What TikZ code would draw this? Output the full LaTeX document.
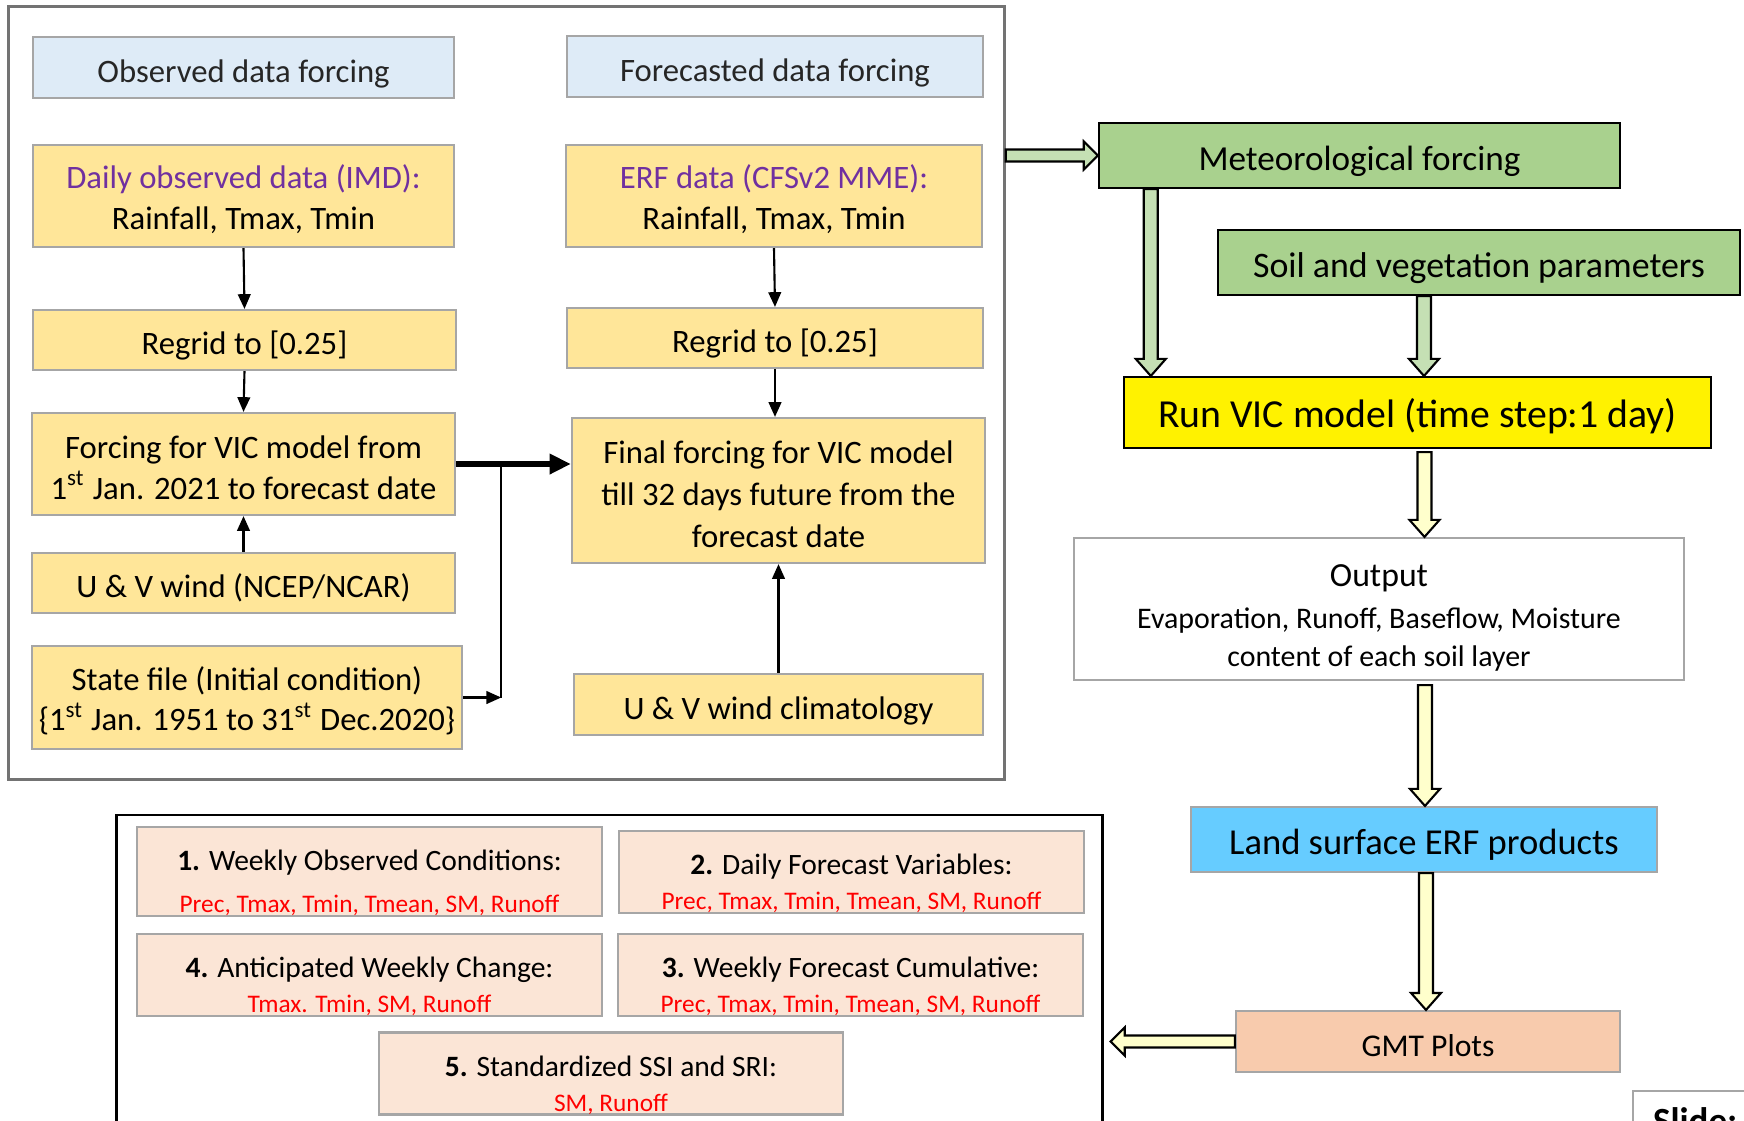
\documentclass[tikz,border=0pt]{standalone}
\usepackage{fontspec}
\setmainfont{Carlito}
\usetikzlibrary{arrows.meta,calc}

\definecolor{hdrblue}{HTML}{DEEBF7}
\definecolor{boxyellow}{HTML}{FFE699}
\definecolor{boxgray}{HTML}{A6A6A6}
\definecolor{imdpurple}{HTML}{7030A0}
\definecolor{metgreen}{HTML}{A9D18E}
\definecolor{arrgreen}{HTML}{C5E0B4}
\definecolor{arryellow}{HTML}{FFFFCC}
\definecolor{landblue}{HTML}{66CCFF}
\definecolor{gmtpeach}{HTML}{F8CBAD}
\definecolor{prodpeach}{HTML}{FBE5D6}

% strut for the first line of a stacked label
\newcommand{\topstrut}[1]{\rule{0pt}{#1}}
% hollow block arrow going down: fill, start coordinate, target node
\newcommand{\downblk}[3]{%
  \coordinate (tip) at (#2 |- #3.north);
  \draw[blk, fill=#1] ($(#2)+(-7,0)$) -- ($(tip)+(-7,-17)$) -- ($(tip)+(-15,-17)$) -- (tip)
    -- ($(tip)+(15,-17)$) -- ($(tip)+(7,-17)$) -- ($(#2)+(7,0)$) -- cycle;}
% hollow block arrow going sideways: fill, start, tip, direction (1 right, -1 left)
\newcommand{\sideblk}[4]{%
  \draw[blk, fill=#1] ($(#2)+(0,-6)$) -- ($(#3)+({-1*(#4)*14},-6)$) -- ($(#3)+({-1*(#4)*14},-14)$) -- (#3)
    -- ($(#3)+({-1*(#4)*14},14)$) -- ($(#3)+({-1*(#4)*14},6)$) -- ($(#2)+(0,6)$) -- cycle;}

\begin{document}
\begin{tikzpicture}[x=0.01cm, y=-0.01cm,
    every node/.style={font=\fontsize{9.3}{11.6}\selectfont, align=center, inner sep=0pt},
    oneline/.style={text height=1.0em, text depth=0.17em},
    panel/.style={draw=black!55, line width=0.8pt},
    hdr/.style={draw=boxgray, line width=0.6pt, fill=hdrblue, text=black!85, oneline},
    ybox/.style={draw=boxgray, line width=0.6pt, fill=boxyellow},
    gbox/.style={draw=black, line width=0.6pt, fill=metgreen, oneline},
    prod/.style={draw=boxgray, line width=0.6pt, fill=prodpeach},
    thin/.style={line width=0.6pt, -{Triangle[length=4.2pt,width=3.6pt]}},
    blk/.style={draw=black, line width=0.6pt, line join=miter}]
  \clip (0,0) rectangle (1744,1120);

  % forcing panel
  \node[panel, minimum width=9.95cm, minimum height=7.72cm] (panel) at (506.5,393) {};
  \node[hdr, minimum width=4.21cm, minimum height=0.61cm] (hdrobs) at (243.5,67.5) {Observed data forcing};
  \node[hdr, minimum width=4.16cm, minimum height=0.61cm] (hdrfc) at (775,66.5) {Forecasted data forcing};

  % observed column
  \node[ybox, minimum width=4.21cm, minimum height=1.02cm] (imd) at (243.5,196)
    {\topstrut{0.93em}{\color{imdpurple}Daily observed data (IMD):}\\Rainfall, Tmax, Tmin};
  \node[ybox, oneline, minimum width=4.23cm, minimum height=0.60cm] (regL) at (244.5,340) {Regrid to [0.25]};
  \node[ybox, minimum width=4.23cm, minimum height=1.02cm] (forcL) at (243.5,464)
    {\topstrut{0.9em}Forcing for VIC model from\\1\textsuperscript{st} Jan. 2021 to forecast date};
  \node[ybox, oneline, minimum width=4.23cm, minimum height=0.60cm] (windL) at (243.5,583) {U \& V wind (NCEP/NCAR)};
  \node[ybox, minimum width=4.30cm, minimum height=1.03cm] (state) at (247,697.5)
    {\topstrut{0.93em}State file (Initial condition)\\\{1\textsuperscript{st} Jan. 1951 to 31\textsuperscript{st} Dec.2020\}};

  % forecast column
  \node[ybox, minimum width=4.16cm, minimum height=1.02cm] (erf) at (774,196)
    {\topstrut{0.93em}{\color{imdpurple}ERF data (CFSv2 MME):}\\Rainfall, Tmax, Tmin};
  \node[ybox, oneline, minimum width=4.16cm, minimum height=0.60cm] (regR) at (775,338) {Regrid to [0.25]};
  \node[ybox, minimum width=4.13cm, minimum height=1.45cm, font=\fontsize{9.3}{12}\selectfont] (final) at (778.5,490.5)
    {\topstrut{0.93em}Final forcing for VIC model\\till 32 days future from the\\forecast date};
  \node[ybox, oneline, minimum width=4.09cm, minimum height=0.61cm] (windR) at (778.5,704.5) {U \& V wind climatology};

  \draw[thin] (imd.south) -- (regL.north);
  \draw[thin] (regL.south) -- (forcL.north);
  \draw[thin] (windL.north) -- (forcL.south);
  \draw[thin] (erf.south) -- (regR.north);
  \draw[thin] (regR.south) -- (regR.south |- final.north);
  \draw[thin] (windR.north) -- (windR.north |- final.south);

  % merge into final forcing
  \coordinate (jn) at ($(forcL.east)+(45,0)$);
  \draw[line width=1.5pt, -{Triangle[length=6pt,width=5.5pt]}] (forcL.east) -- (final.west |- forcL.east);
  \draw[line width=0.6pt] (jn) -- (state.east -| jn);
  \draw[thin] (state.east) -- (state.east -| jn);

  % VIC model chain
  \node[gbox, minimum width=5.21cm, minimum height=0.65cm, font=\fontsize{10}{12}\selectfont] (met) at (1359.5,155.5) {Meteorological forcing};
  \node[gbox, minimum width=5.22cm, minimum height=0.65cm, font=\fontsize{10.2}{12}\selectfont] (soil) at (1479,262.5) {Soil and vegetation parameters};
  \node[draw=black, line width=0.6pt, fill=yellow, oneline, minimum width=5.87cm, minimum height=0.71cm,
        font=\fontsize{11.3}{13}\selectfont] (run) at (1417.5,412.5) {Run VIC model (time step:1 day)};
  \node[draw=boxgray, line width=0.6pt, fill=white, minimum width=6.10cm, minimum height=1.42cm,
        font=\fontsize{8.5}{10.8}\selectfont] (output) at (1379,609)
    {{\fontsize{9.6}{11}\selectfont\topstrut{11.3pt}Output}\\[1pt]Evaporation, Runoff, Baseflow, Moisture\\content of each soil layer};
  \node[draw=boxgray, line width=0.6pt, fill=landblue, oneline, minimum width=4.66cm, minimum height=0.65cm,
        font=\fontsize{10.4}{12}\selectfont] (land) at (1424,839.5) {Land surface ERF products};
  \node[draw=boxgray, line width=0.6pt, fill=gmtpeach, oneline, minimum width=3.84cm, minimum height=0.61cm,
        font=\fontsize{9}{11}\selectfont] (gmt) at (1428,1041.5) {GMT Plots};

  \coordinate (p0) at (panel.east |- met.west);
  \sideblk{arrgreen}{p0}{met.west}{1}
  \coordinate (m1) at ($(met.south west)+(53,0)$);
  \downblk{arrgreen}{m1}{run}
  \coordinate (s1) at ($(soil.south)+(-55,0)$);
  \downblk{arrgreen}{s1}{soil.south |- run}
  \coordinate (r1) at ($(run.south)+(7,3)$);
  \downblk{arryellow}{r1}{output}
  \coordinate (o1) at ($(output.south)+(46,4)$);
  \downblk{arryellow}{o1}{land}
  \coordinate (l1) at ($(land.south)+(2,0)$);
  \downblk{arryellow}{l1}{gmt}

  % products
  \node[draw=black, line width=0.8pt, minimum width=9.85cm, minimum height=3.20cm] (results) at (609.5,975) {};
  \coordinate (g0) at ($(results.east |- gmt.west)+(7,0)$);
  \sideblk{arryellow}{gmt.west}{g0}{-1}
  \node[prod, minimum width=4.65cm, minimum height=0.85cm, font=\fontsize{8.4}{12}\selectfont] (prod1) at (369.5,871.5)
    {\topstrut{12.2pt}\textbf{1.} Weekly Observed Conditions:\\{\color{red}\fontsize{7.2}{8}\selectfont Prec, Tmax, Tmin, Tmean, SM, Runoff}};
  \node[prod, minimum width=4.65cm, minimum height=0.82cm, font=\fontsize{8.4}{10}\selectfont] (prod2) at (851.5,872)
    {\topstrut{12.2pt}\textbf{2.} Daily Forecast Variables:\\{\color{red}\fontsize{7.2}{8}\selectfont Prec, Tmax, Tmin, Tmean, SM, Runoff}};
  \node[prod, minimum width=4.65cm, minimum height=0.74cm, font=\fontsize{8.4}{10}\selectfont] (prod4) at (369.5,975)
    {\topstrut{12.2pt}\textbf{4.} Anticipated Weekly Change:\\{\color{red}\fontsize{7.2}{8}\selectfont Tmax. Tmin, SM, Runoff}};
  \node[prod, minimum width=4.65cm, minimum height=0.78cm, font=\fontsize{8.4}{10}\selectfont] (prod3) at (850.5,975)
    {\topstrut{12.4pt}\textbf{3.} Weekly Forecast Cumulative:\\{\color{red}\fontsize{7.2}{8}\selectfont Prec, Tmax, Tmin, Tmean, SM, Runoff}};
  \node[prod, minimum width=4.64cm, minimum height=0.77cm, font=\fontsize{8.4}{10}\selectfont] (prod5) at (611,1073.5)
    {\topstrut{12.4pt}\textbf{5.} Standardized SSI and SRI:\\{\color{red}\fontsize{7.2}{8}\selectfont SM, Runoff}};

  % slide tag, cut by the page edge
  \node[draw=boxgray, line width=0.6pt, fill=white, minimum width=2cm, minimum height=0.6cm, anchor=north west,
        inner xsep=0.2cm, text width=1.6cm, align=left, font=\fontsize{10.5}{12}\selectfont] (slide) at (1632,1090) {\textbf{Slide:}};
\end{tikzpicture}
\end{document}
